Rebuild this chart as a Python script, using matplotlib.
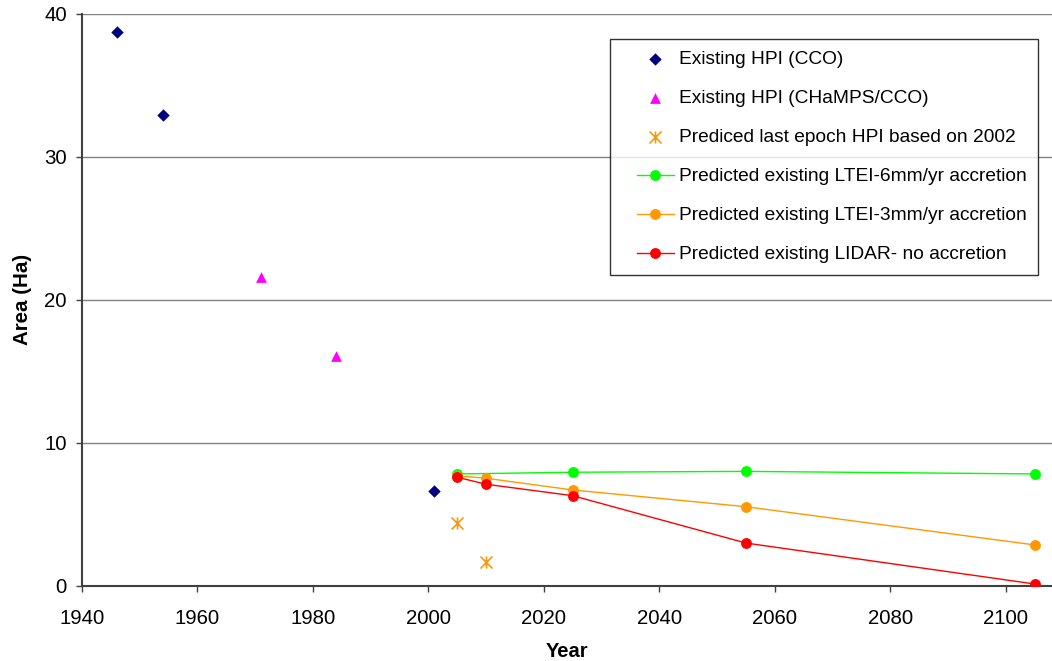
import matplotlib
matplotlib.use("Agg")
import matplotlib.pyplot as plt
from matplotlib.path import Path
from matplotlib.lines import Line2D
from matplotlib.collections import PathCollection
from matplotlib.legend_handler import HandlerLine2D, HandlerPathCollection

plt.rcParams['font.family'] = ['Liberation Sans', 'DejaVu Sans']

# Observed habitat area
hpi_cco_years = [1946, 1954, 2001]
hpi_cco_area = [38.7, 32.95, 6.66]

hpi_champs_years = [1971, 1984]
hpi_champs_area = [21.6, 16.1]

last_epoch_years = [2005, 2010]
last_epoch_area = [4.42, 1.66]

# Predicted scenarios
ltei6_years = [2005, 2025, 2055, 2105]
ltei6_area = [7.83, 7.95, 8.01, 7.83]

ltei3_years = [2005, 2010, 2025, 2055, 2105]
ltei3_area = [7.7, 7.53, 6.71, 5.54, 2.87]

lidar_years = [2005, 2010, 2025, 2055, 2105]
lidar_area = [7.6, 7.11, 6.31, 3.0, 0.14]

x_ticks = [1940, 1960, 1980, 2000, 2020, 2040, 2060, 2080, 2100]
y_ticks = [0, 10, 20, 30, 40]

# asterisk marker: an X crossed by a vertical stroke
star_path = Path(
    [(-1, -1), (1, 1), (-1, 1), (1, -1), (0, -1), (0, 1)],
    [Path.MOVETO, Path.LINETO, Path.MOVETO, Path.LINETO, Path.MOVETO, Path.LINETO],
)

fig = plt.figure(figsize=(10.52, 6.61), dpi=100)
ax = fig.add_axes([0.0779, 0.1135, 0.9221, 0.8658])

ax.scatter(hpi_cco_years, hpi_cco_area, marker='D', s=40, color='#000080',
           linewidths=0, label='Existing HPI (CCO)', zorder=3)
ax.scatter(hpi_champs_years, hpi_champs_area, marker='^', s=60, color='#FF00FF',
           linewidths=0, label='Existing HPI (CHaMPS/CCO)', zorder=3)
ax.scatter(last_epoch_years, last_epoch_area, marker=star_path, s=75, color='#FF9900',
           linewidths=1.2, label='Prediced last epoch HPI based on 2002', zorder=3)
ax.plot(ltei6_years, ltei6_area, '-o', color='#00FF00', lw=1, ms=6.8,
        label='Predicted existing LTEI-6mm/yr accretion', zorder=3)
ax.plot(ltei3_years, ltei3_area, '-o', color='#FF9900', lw=1, ms=6.8,
        label='Predicted existing LTEI-3mm/yr accretion', zorder=4)
ax.plot(lidar_years, lidar_area, '-o', color='#FF0000', lw=1, ms=6.8,
        label='Predicted existing LIDAR- no accretion', zorder=5)

ax.set_xlim(1940, 2108)
ax.set_ylim(0, 40)
ax.set_xticks(x_ticks)
ax.set_yticks(y_ticks)
ax.tick_params(axis='both', labelsize=14.7, direction='out', length=4.5,
               color='#404040', width=1)
ax.tick_params(axis='x', pad=12)
ax.tick_params(axis='y', pad=6.5)
ax.yaxis.grid(True, color='#808080', lw=1)
ax.set_axisbelow(True)
for side in ('top', 'right'):
    ax.spines[side].set_visible(False)
for side in ('left', 'bottom'):
    ax.spines[side].set_color('#404040')
    ax.spines[side].set_linewidth(1.5)

ax.set_xlabel('Year', fontsize=14.5, fontweight='bold', labelpad=10)
ax.set_ylabel('Area (Ha)', fontsize=14.8, fontweight='bold', labelpad=8.5)

# legend handles are inset from the left of their slot
hpad = 0.785
leg = ax.legend(loc='upper right', bbox_to_anchor=(0.9856, 0.9558), borderaxespad=0,
                fontsize=13.75, frameon=True, fancybox=False, edgecolor='black',
                labelspacing=1.14, handlelength=2.72, handletextpad=0.27,
                borderpad=0.6, scatterpoints=1,
                handler_map={Line2D: HandlerLine2D(xpad=hpad),
                             PathCollection: HandlerPathCollection(xpad=hpad)})
leg.get_frame().set_linewidth(1)

fig.savefig('out.png', dpi=100)
